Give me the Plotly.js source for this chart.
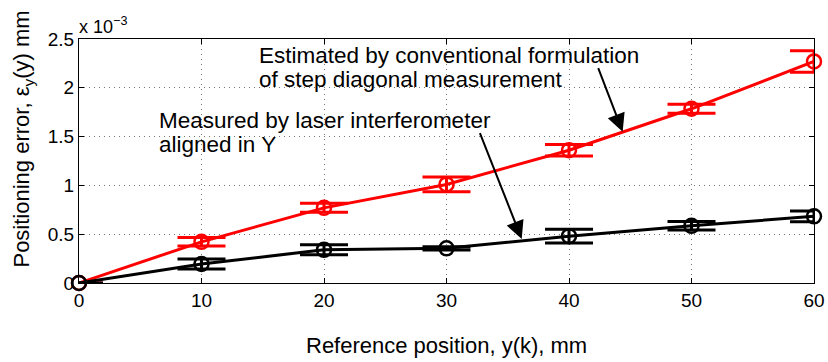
<!DOCTYPE html>
<html>
<head>
<meta charset="utf-8">
<script src="https://cdn.plot.ly/plotly-3.0.1.min.js"></script>
<style>html,body{margin:0;padding:0;background:#fff;}#chart{width:828px;height:362px;}</style>
</head>
<body>
<div id="chart"></div>
<script>
// Reference position y(k), mm
const positions = [0, 10, 20, 30, 40, 50, 60];
// Estimated by conventional formulation (x 10^-3 mm)
const estimated = [0, 0.422, 0.77, 1.01, 1.36, 1.785, 2.27];
const estimatedErr = [0, 0.043, 0.046, 0.075, 0.058, 0.046, 0.11];
// Measured by laser interferometer (x 10^-3 mm)
const measured = [0, 0.195, 0.34, 0.355, 0.48, 0.586, 0.683];
const measuredErr = [0, 0.051, 0.051, 0.016, 0.07, 0.043, 0.055];
const yTicks = [0, 0.5, 1, 1.5, 2, 2.5];
const xTicks = [0, 10, 20, 30, 40, 50, 60];

const FONT = 'Liberation Sans, Arial, Helvetica, sans-serif';

function seriesTraces(ys, errs, color) {
  return [
    { // line + error bars, clipped to the axes
      x: positions, y: ys, type: 'scatter', mode: 'lines',
      line: {color: color, width: 3},
      error_y: {type: 'data', array: errs, visible: true, color: color, thickness: 3, width: 24},
      cliponaxis: true, showlegend: false, hoverinfo: 'skip'
    },
    { // markers, not clipped
      x: positions, y: ys, type: 'scatter', mode: 'markers',
      marker: {symbol: 'circle-open', size: 14, color: color, line: {width: 2.5, color: color}},
      cliponaxis: false, showlegend: false
    }
  ];
}

const traces = [].concat(
  seriesTraces(estimated, estimatedErr, '#ff0000'),
  seriesTraces(measured, measuredErr, '#000000')
);

const layout = {
  width: 828, height: 362,
  margin: {l: 79, r: 14, t: 39, b: 79, pad: 0},
  paper_bgcolor: '#ffffff', plot_bgcolor: '#ffffff',
  font: {family: FONT, color: '#000', size: 19},
  showlegend: false,
  xaxis: {
    range: [0, 60], tickvals: xTicks, ticktext: xTicks.map(String),
    ticks: 'inside', ticklen: 5, tickwidth: 1, tickcolor: '#000',
    showline: true, linecolor: '#000', linewidth: 1, mirror: 'ticks',
    showgrid: true, gridcolor: '#777', griddash: '1px,4px', gridwidth: 1,
    zeroline: false, tickfont: {size: 19, family: FONT}
  },
  yaxis: {
    range: [0, 2.5], tickvals: yTicks, ticktext: yTicks.map(String),
    ticks: 'inside', ticklen: 5, tickwidth: 1, tickcolor: '#000',
    showline: true, linecolor: '#000', linewidth: 1, mirror: 'ticks',
    showgrid: true, gridcolor: '#777', griddash: '1px,4px', gridwidth: 1,
    zeroline: false, tickfont: {size: 19, family: FONT}
  },
  annotations: [
    {xref: 'paper', yref: 'paper', x: 0.5, y: -0.255, xanchor: 'center', yanchor: 'middle',
     text: 'Reference position, y(k), mm', showarrow: false, font: {size: 22, family: FONT}},
    {xref: 'paper', yref: 'paper', x: -0.0762, y: 0.592, xanchor: 'center', yanchor: 'middle', textangle: -90,
     text: 'Positioning error, ε<sub>y</sub>(y) mm', showarrow: false, font: {size: 22, family: FONT}},
    {xref: 'paper', yref: 'paper', x: 0, y: 1, xanchor: 'left', yanchor: 'bottom', yshift: 0, xshift: -2,
     text: 'x 10<sup>−3</sup>', showarrow: false, font: {size: 18, family: FONT}},
    {xref: 'x', yref: 'y', x: 14.53, y: 2.336, xanchor: 'left', yanchor: 'middle',
     text: 'Estimated by conventional formulation', showarrow: false, font: {size: 22.5, family: FONT}},
    {xref: 'x', yref: 'y', x: 14.53, y: 2.08, xanchor: 'left', yanchor: 'middle',
     text: 'of step diagonal measurement', showarrow: false, font: {size: 22.5, family: FONT}},
    {xref: 'x', yref: 'y', x: 6.34, y: 1.67, xanchor: 'left', yanchor: 'middle',
     text: 'Measured by laser interferometer', showarrow: false, font: {size: 22.5, family: FONT}},
    {xref: 'x', yref: 'y', x: 6.34, y: 1.42, xanchor: 'left', yanchor: 'middle',
     text: 'aligned in Y', showarrow: false, font: {size: 22.5, family: FONT}},
    {xref: 'x', yref: 'y', axref: 'x', ayref: 'y', x: 44.38, y: 1.55, ax: 42.34, ay: 2.216,
     text: '', showarrow: true, arrowhead: 2, arrowsize: 1.8, arrowwidth: 2, arrowcolor: '#000', standoff: 0, startstandoff: 0},
    {xref: 'x', yref: 'y', axref: 'x', ayref: 'y', x: 36.14, y: 0.451, ax: 32.68, ay: 1.55,
     text: '', showarrow: true, arrowhead: 2, arrowsize: 1.8, arrowwidth: 2, arrowcolor: '#000', standoff: 0, startstandoff: 0}
  ]
};

Plotly.newPlot('chart', traces, layout, {staticPlot: true, displayModeBar: false});
</script>
</body>
</html>
